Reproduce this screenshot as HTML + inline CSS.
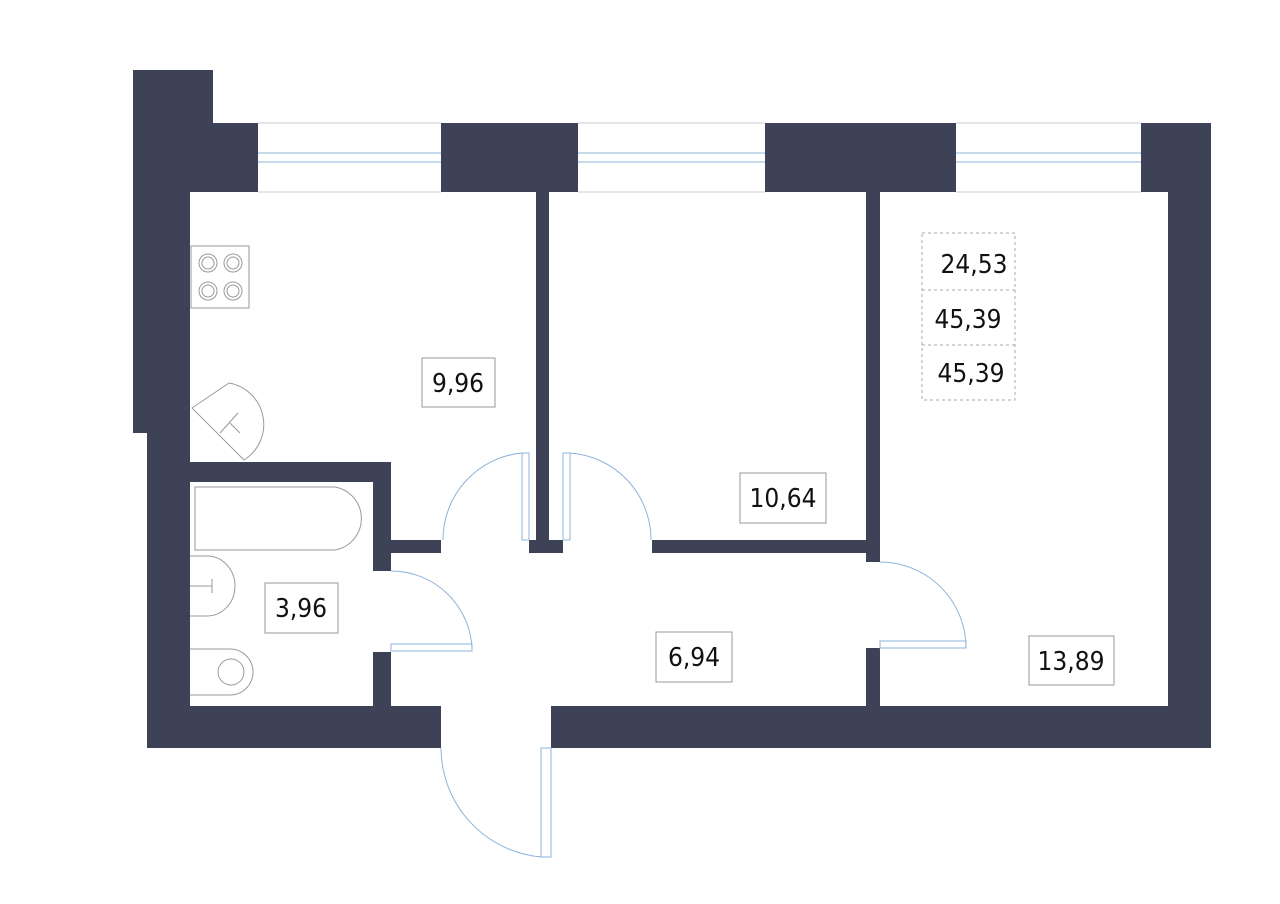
<!DOCTYPE html>
<html><head><meta charset="utf-8"><style>
html,body{margin:0;padding:0;background:#fff;}
svg{display:block}
text{font-family:"Liberation Sans Narrow","DejaVu Sans Condensed","Liberation Sans",sans-serif;fill:#111;}
</style></head><body>
<svg width="1280" height="904" viewBox="0 0 1280 904" xmlns="http://www.w3.org/2000/svg">
<g fill="#3d4257">
<rect x="133" y="70" width="80" height="60"/>
<rect x="133" y="123" width="125" height="69"/>
<rect x="133" y="123" width="57" height="310"/>
<rect x="147" y="430" width="43" height="318"/>
<rect x="441" y="123" width="137" height="69"/>
<rect x="765" y="123" width="191" height="69"/>
<rect x="1141" y="123" width="70" height="69"/>
<rect x="1168" y="123" width="43" height="625"/>
<rect x="147" y="706" width="294" height="42"/>
<rect x="551" y="706" width="660" height="42"/>
<rect x="536" y="192" width="13" height="350"/>
<rect x="529" y="540" width="34" height="13"/>
<rect x="866" y="192" width="14" height="370"/>
<rect x="866" y="648" width="14" height="60"/>
<rect x="652" y="540" width="214" height="13"/>
<rect x="147" y="462" width="244" height="20"/>
<rect x="373" y="462" width="18" height="109"/>
<rect x="373" y="652" width="18" height="56"/>
<rect x="391" y="540" width="50" height="13"/>
</g>
<g stroke="#8fb3d9" stroke-width="1" fill="none">
<line x1="258" y1="153" x2="441" y2="153"/><line x1="258" y1="162" x2="441" y2="162"/>
<line x1="578" y1="153" x2="765" y2="153"/><line x1="578" y1="162" x2="765" y2="162"/>
<line x1="956" y1="153" x2="1141" y2="153"/><line x1="956" y1="162" x2="1141" y2="162"/>
<path d="M391 571 A81 81 0 0 1 472 648"/>
<rect x="391" y="644" width="81" height="7"/>
<path d="M522 453 A87 87 0 0 0 443 540"/>
<rect x="522" y="453" width="7" height="87"/>
<path d="M570 453 A87 87 0 0 1 651 540"/>
<rect x="563" y="453" width="7" height="87"/>
<path d="M880 562 A86 86 0 0 1 966 648"/>
<rect x="880" y="641" width="86" height="7"/>
<path d="M441 748 A110 110 0 0 0 541 857"/>
<rect x="541" y="748" width="10" height="109"/>
</g>
<g stroke="#c8ccd4" stroke-width="1" fill="none">
<line x1="258" y1="123" x2="441" y2="123"/><line x1="258" y1="192" x2="441" y2="192"/>
<line x1="578" y1="123" x2="765" y2="123"/><line x1="578" y1="192" x2="765" y2="192"/>
<line x1="956" y1="123" x2="1141" y2="123"/><line x1="956" y1="192" x2="1141" y2="192"/>
</g>
<g stroke="#9a9a9a" stroke-width="1" fill="none">
<rect x="191" y="246" width="58" height="62"/>
<circle cx="208" cy="263" r="9"/><circle cx="208" cy="263" r="6"/>
<circle cx="233" cy="263" r="9"/><circle cx="233" cy="263" r="6"/>
<circle cx="208" cy="291" r="9"/><circle cx="208" cy="291" r="6"/>
<circle cx="233" cy="291" r="9"/><circle cx="233" cy="291" r="6"/>
<path d="M192 408 L229 383 A42 42 0 0 1 244 460 Z"/>
<path d="M220 433 L238 413 M230 423 L240 433"/>
<path d="M195 487 H335 A32 32 0 0 1 335 550 H195 Z"/>
<path d="M190 556 H207 A28 30 0 0 1 207 616 H190"/>
<line x1="190" y1="586" x2="212" y2="586"/><line x1="212" y1="579" x2="212" y2="593"/>
<path d="M190 649 H230 A23 23 0 0 1 230 695 H190"/>
<circle cx="231" cy="672" r="13"/>
</g>
<g stroke="#999" stroke-width="1" fill="#fff">
<rect x="422" y="358" width="73" height="49"/>
<rect x="740" y="473" width="86" height="50"/>
<rect x="265" y="583" width="73" height="50"/>
<rect x="656" y="632" width="76" height="50"/>
<rect x="1029" y="636" width="85" height="49"/>
</g>
<g stroke="#aaa" stroke-width="1" fill="none" stroke-dasharray="3,3">
<rect x="922" y="233" width="93" height="167"/>
<line x1="922" y1="290" x2="1015" y2="290"/>
<line x1="922" y1="345" x2="1015" y2="345"/>
</g>
<g font-size="26" text-anchor="middle">
<text x="458" y="392">9,96</text>
<text x="783" y="507">10,64</text>
<text x="301" y="617">3,96</text>
<text x="694" y="666">6,94</text>
<text x="1071" y="670">13,89</text>
<text x="974" y="273" fill="#333">24,53</text>
<text x="968" y="328" fill="#333">45,39</text>
<text x="971" y="382" fill="#333">45,39</text>
</g>
</svg>
</body></html>
